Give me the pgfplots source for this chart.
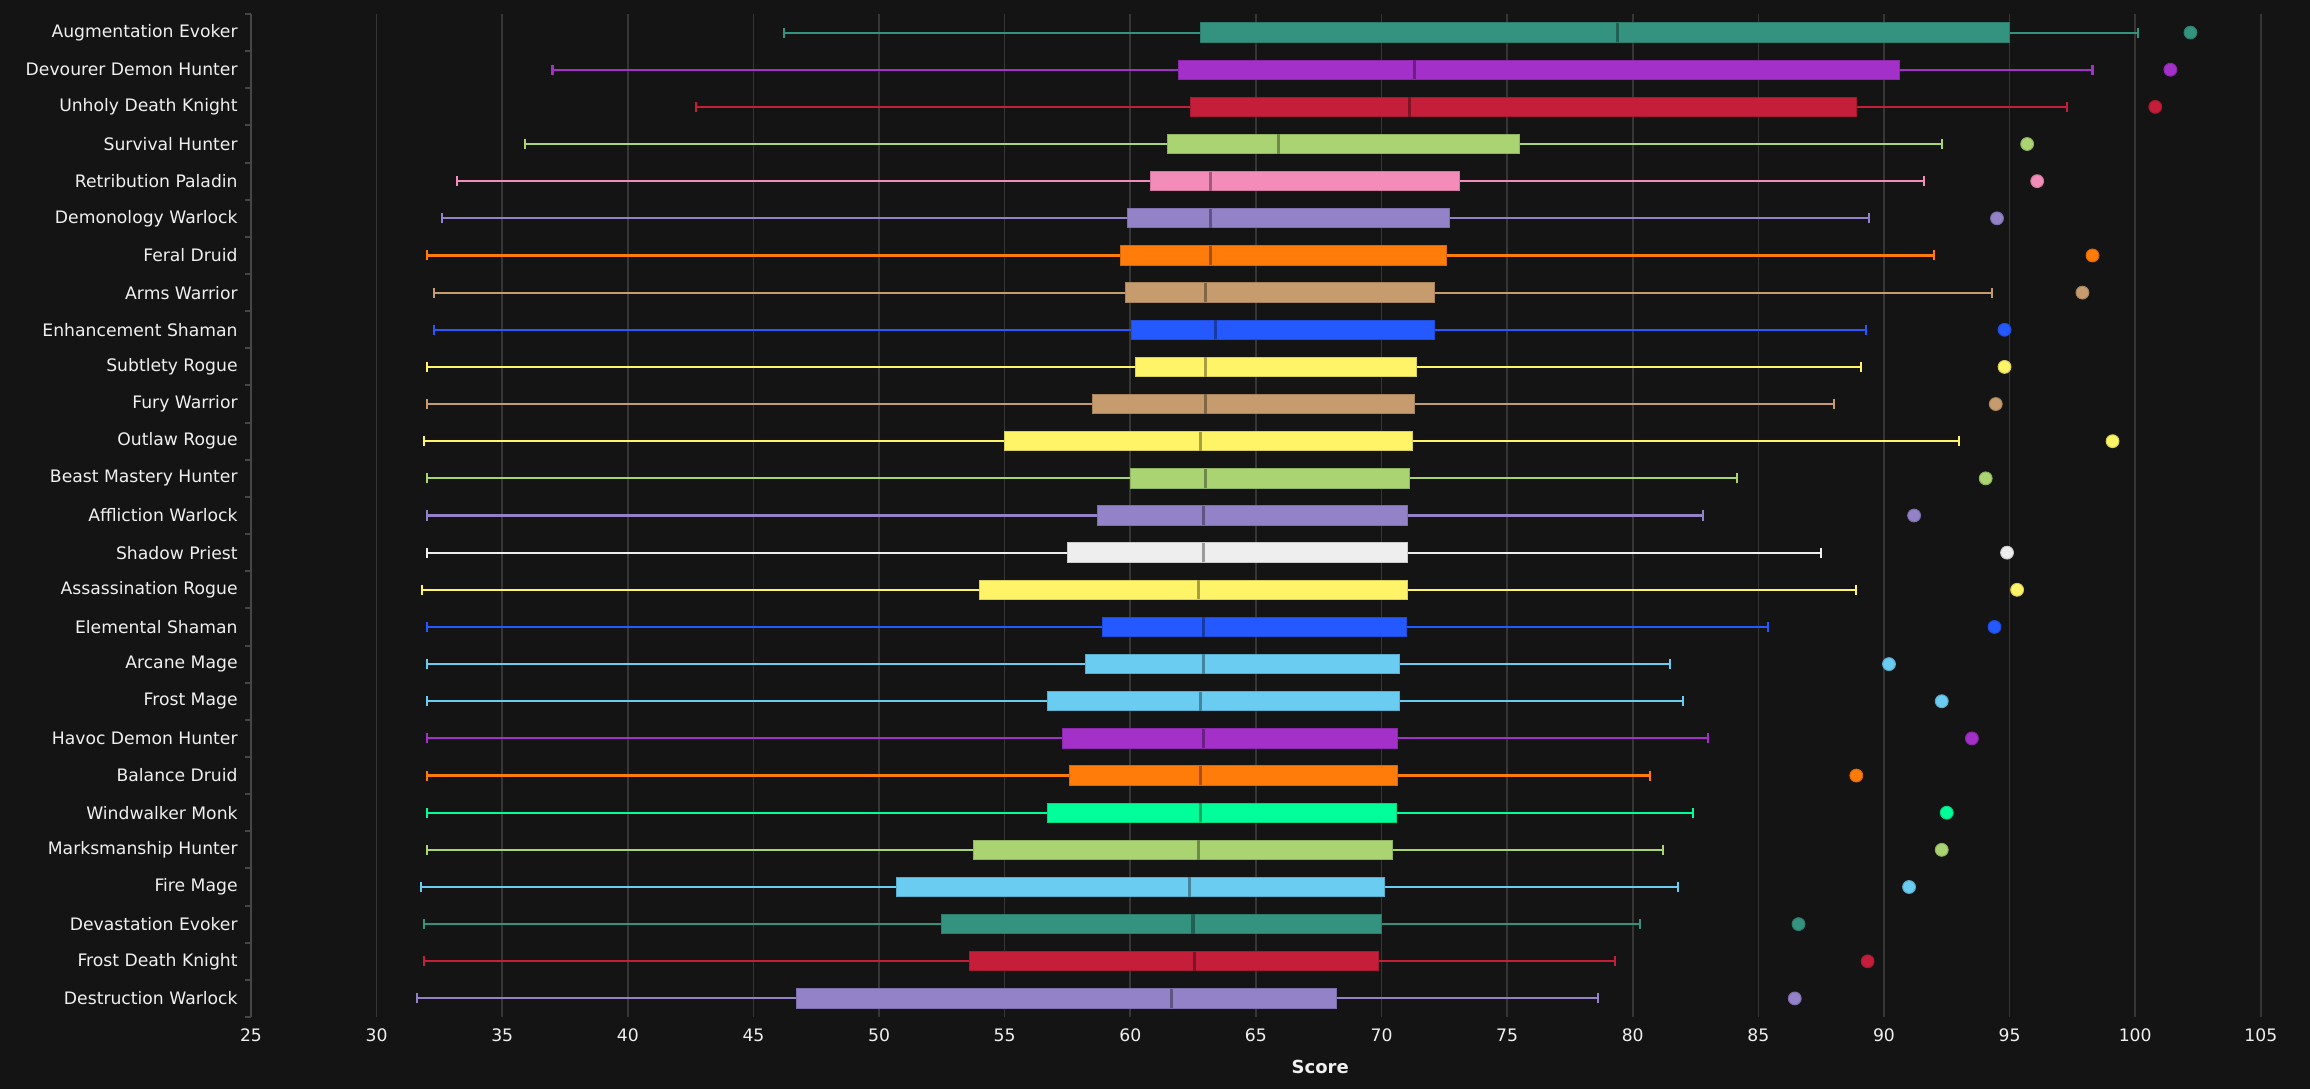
\documentclass[border=0pt]{standalone}
\usepackage{fontspec}
\setmainfont{DejaVu Sans}
\usepackage{pgfplots}
\pgfplotsset{compat=1.18}
\usepgfplotslibrary{statistics}
\definecolor{bg}{HTML}{141414}
\definecolor{gridc}{HTML}{363636}
\definecolor{axc}{HTML}{464646}
\definecolor{labc}{HTML}{F0F0F0}
\definecolor{cEvoker}{HTML}{33937F}
\definecolor{cDH}{HTML}{A330C9}
\definecolor{cDK}{HTML}{C41E3A}
\definecolor{cHunter}{HTML}{AAD372}
\definecolor{cPaladin}{HTML}{F48CBA}
\definecolor{cWarlock}{HTML}{9482C9}
\definecolor{cDruid}{HTML}{FF7C0A}
\definecolor{cWarrior}{HTML}{C69B6D}
\definecolor{cShaman}{HTML}{2459FF}
\definecolor{cRogue}{HTML}{FFF468}
\definecolor{cPriest}{HTML}{EEEEEE}
\definecolor{cMage}{HTML}{69CCF0}
\definecolor{cMonk}{HTML}{00FF98}
\pgfplotsset{
  mybox/.style={
    fill=#1, draw=#1!85!black, line width=0.5pt,
    mark=*, mark size=3.2pt, mark options={fill=#1, draw=none},
    boxplot/every median/.style={draw=#1!65!black, line width=1.6pt},
    boxplot/every whisker/.style={draw=#1, line width=1.05pt},
  }
}
\begin{document}
\begin{tikzpicture}
\fill[bg] (-125.5pt,-36pt) rectangle (1029.5pt,508.5pt);
\useasboundingbox (-125.5pt,-36pt) rectangle (1029.5pt,508.5pt);
\begin{axis}[
  at={(0,0)}, anchor=south west,
  scale only axis, width=1005pt, height=501.5pt,
  xmin=25, xmax=105, ymin=0.5, ymax=27.5,
  axis lines*=left,
  x axis line style={draw=none},
  y axis line style={draw=axc, line width=1pt},
  xtick={25,30,...,105},
  ytick={1,...,27},
  minor ytick={0.5,1.5,...,27.5},
  yticklabels={Destruction Warlock, Frost Death Knight, Devastation Evoker, Fire Mage, Marksmanship Hunter, Windwalker Monk, Balance Druid, Havoc Demon Hunter, Frost Mage, Arcane Mage, Elemental Shaman, Assassination Rogue, Shadow Priest, Affliction Warlock, Beast Mastery Hunter, Outlaw Rogue, Fury Warrior, Subtlety Rogue, Enhancement Shaman, Arms Warrior, Feral Druid, Demonology Warlock, Retribution Paladin, Survival Hunter, Unholy Death Knight, Devourer Demon Hunter, Augmentation Evoker},
  major tick length=0pt, minor tick length=3pt, tick align=outside,
  minor tick style={draw=axc, line width=1pt},
  xmajorgrids, major grid style={draw=gridc, line width=0.8pt},
  /pgf/number format/assume math mode=true,
  tick label style={text=labc, font=\fontsize{8.6pt}{10pt}\selectfont, inner sep=0pt},
  yticklabel style={anchor=east, xshift=-6.5pt},
  xticklabel style={anchor=north, yshift=-5.6pt},
  xlabel={Score},
  xlabel style={at={(rel axis cs:0.532,0)}, anchor=center, yshift=-25pt, text=labc, font=\fontsize{9pt}{10pt}\selectfont\bfseries},
  boxplot/box extend=0.52, boxplot/whisker extend=0.27,
  clip=false,
]
% Augmentation Evoker
\addplot[mybox=cEvoker, boxplot prepared={draw position=27, lower whisker=46.2, lower quartile=62.8, median=79.4, upper quartile=95.0, upper whisker=100.1}] coordinates {(0,102.2)};
% Devourer Demon Hunter
\addplot[mybox=cDH, boxplot prepared={draw position=26, lower whisker=37.0, lower quartile=61.9, median=71.3, upper quartile=90.6, upper whisker=98.3}] coordinates {(0,101.4)};
% Unholy Death Knight
\addplot[mybox=cDK, boxplot prepared={draw position=25, lower whisker=42.7, lower quartile=62.4, median=71.1, upper quartile=88.9, upper whisker=97.3}] coordinates {(0,100.8)};
% Survival Hunter
\addplot[mybox=cHunter, boxplot prepared={draw position=24, lower whisker=35.9, lower quartile=61.5, median=65.9, upper quartile=75.5, upper whisker=92.3}] coordinates {(0,95.7)};
% Retribution Paladin
\addplot[mybox=cPaladin, boxplot prepared={draw position=23, lower whisker=33.2, lower quartile=60.8, median=63.2, upper quartile=73.1, upper whisker=91.6}] coordinates {(0,96.1)};
% Demonology Warlock
\addplot[mybox=cWarlock, boxplot prepared={draw position=22, lower whisker=32.6, lower quartile=59.9, median=63.2, upper quartile=72.7, upper whisker=89.4}] coordinates {(0,94.5)};
% Feral Druid
\addplot[mybox=cDruid, boxplot prepared={draw position=21, lower whisker=32.0, lower quartile=59.6, median=63.2, upper quartile=72.6, upper whisker=92.0}] coordinates {(0,98.3)};
% Arms Warrior
\addplot[mybox=cWarrior, boxplot prepared={draw position=20, lower whisker=32.3, lower quartile=59.8, median=63.0, upper quartile=72.1, upper whisker=94.3}] coordinates {(0,97.9)};
% Enhancement Shaman
\addplot[mybox=cShaman, boxplot prepared={draw position=19, lower whisker=32.3, lower quartile=60.05, median=63.4, upper quartile=72.1, upper whisker=89.3}] coordinates {(0,94.8)};
% Subtlety Rogue
\addplot[mybox=cRogue, boxplot prepared={draw position=18, lower whisker=32.0, lower quartile=60.2, median=63.0, upper quartile=71.4, upper whisker=89.1}] coordinates {(0,94.8)};
% Fury Warrior
\addplot[mybox=cWarrior, boxplot prepared={draw position=17, lower whisker=32.0, lower quartile=58.5, median=63.0, upper quartile=71.3, upper whisker=88.0}] coordinates {(0,94.45)};
% Outlaw Rogue
\addplot[mybox=cRogue, boxplot prepared={draw position=16, lower whisker=31.9, lower quartile=55.0, median=62.8, upper quartile=71.25, upper whisker=93.0}] coordinates {(0,99.1)};
% Beast Mastery Hunter
\addplot[mybox=cHunter, boxplot prepared={draw position=15, lower whisker=32.0, lower quartile=60.0, median=63.0, upper quartile=71.1, upper whisker=84.15}] coordinates {(0,94.05)};
% Affliction Warlock
\addplot[mybox=cWarlock, boxplot prepared={draw position=14, lower whisker=32.0, lower quartile=58.7, median=62.9, upper quartile=71.05, upper whisker=82.8}] coordinates {(0,91.2)};
% Shadow Priest
\addplot[mybox=cPriest, boxplot prepared={draw position=13, lower whisker=32.0, lower quartile=57.5, median=62.9, upper quartile=71.05, upper whisker=87.5}] coordinates {(0,94.9)};
% Assassination Rogue
\addplot[mybox=cRogue, boxplot prepared={draw position=12, lower whisker=31.8, lower quartile=54.0, median=62.7, upper quartile=71.05, upper whisker=88.9}] coordinates {(0,95.3)};
% Elemental Shaman
\addplot[mybox=cShaman, boxplot prepared={draw position=11, lower whisker=32.0, lower quartile=58.9, median=62.9, upper quartile=71.0, upper whisker=85.4}] coordinates {(0,94.4)};
% Arcane Mage
\addplot[mybox=cMage, boxplot prepared={draw position=10, lower whisker=32.0, lower quartile=58.2, median=62.9, upper quartile=70.7, upper whisker=81.5}] coordinates {(0,90.2)};
% Frost Mage
\addplot[mybox=cMage, boxplot prepared={draw position=9, lower whisker=32.0, lower quartile=56.7, median=62.8, upper quartile=70.7, upper whisker=82.0}] coordinates {(0,92.3)};
% Havoc Demon Hunter
\addplot[mybox=cDH, boxplot prepared={draw position=8, lower whisker=32.0, lower quartile=57.3, median=62.9, upper quartile=70.65, upper whisker=83.0}] coordinates {(0,93.5)};
% Balance Druid
\addplot[mybox=cDruid, boxplot prepared={draw position=7, lower whisker=32.0, lower quartile=57.6, median=62.8, upper quartile=70.65, upper whisker=80.7}] coordinates {(0,88.9)};
% Windwalker Monk
\addplot[mybox=cMonk, boxplot prepared={draw position=6, lower whisker=32.0, lower quartile=56.7, median=62.8, upper quartile=70.6, upper whisker=82.4}] coordinates {(0,92.5)};
% Marksmanship Hunter
\addplot[mybox=cHunter, boxplot prepared={draw position=5, lower whisker=32.0, lower quartile=53.75, median=62.7, upper quartile=70.45, upper whisker=81.2}] coordinates {(0,92.3)};
% Fire Mage
\addplot[mybox=cMage, boxplot prepared={draw position=4, lower whisker=31.75, lower quartile=50.7, median=62.35, upper quartile=70.1, upper whisker=81.8}] coordinates {(0,91.0)};
% Devastation Evoker
\addplot[mybox=cEvoker, boxplot prepared={draw position=3, lower whisker=31.9, lower quartile=52.5, median=62.5, upper quartile=70.0, upper whisker=80.3}] coordinates {(0,86.6)};
% Frost Death Knight
\addplot[mybox=cDK, boxplot prepared={draw position=2, lower whisker=31.9, lower quartile=53.6, median=62.55, upper quartile=69.9, upper whisker=79.3}] coordinates {(0,89.35)};
% Destruction Warlock
\addplot[mybox=cWarlock, boxplot prepared={draw position=1, lower whisker=31.6, lower quartile=46.7, median=61.65, upper quartile=68.2, upper whisker=78.6}] coordinates {(0,86.45)};
\end{axis}
\end{tikzpicture}
\end{document}
